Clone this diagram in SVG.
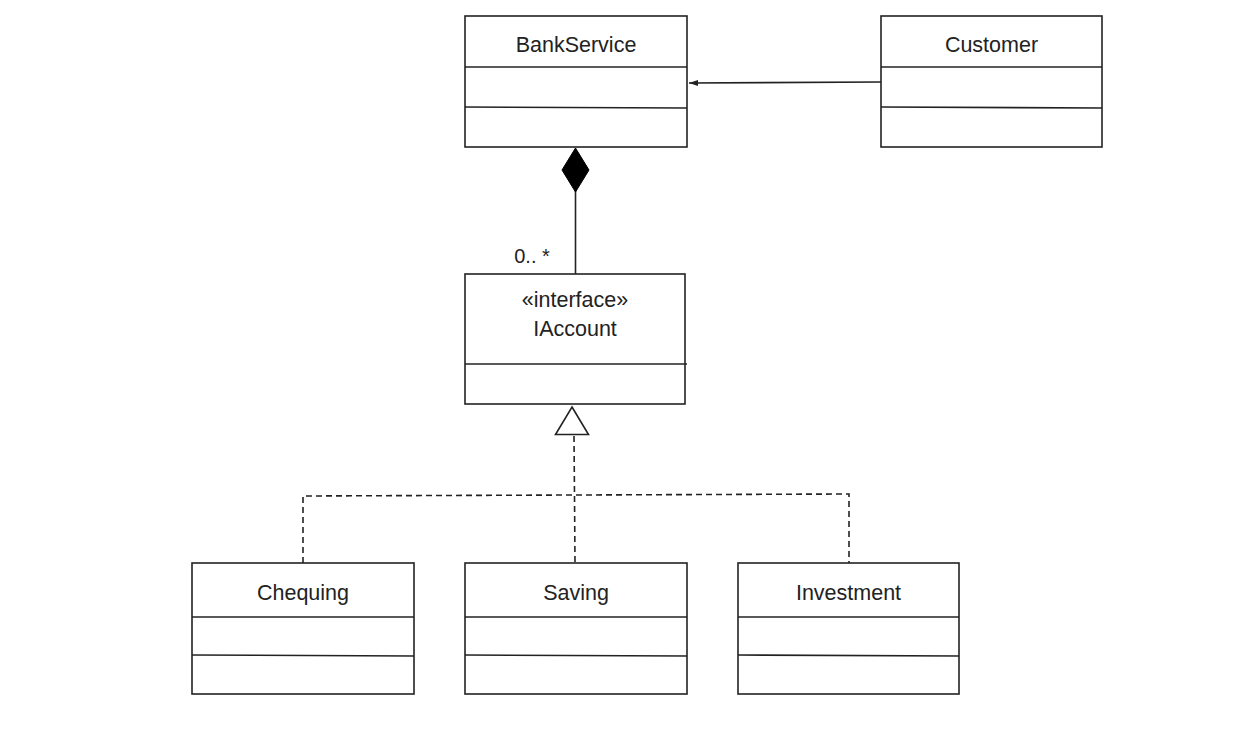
<svg xmlns="http://www.w3.org/2000/svg" width="1240" height="735" viewBox="0 0 1240 735">
<style>
.box{fill:#fff;stroke:#222;stroke-width:1.6}
.div{stroke:#222;stroke-width:1.6}
.t{font-family:"Liberation Sans",Arial,sans-serif;font-size:21.5px;fill:#222;text-anchor:middle}
.c{fill:none;stroke:#222;stroke-width:1.6}
.d{fill:none;stroke:#222;stroke-width:1.6;stroke-dasharray:6,4}
</style>
<defs>
<marker id="arr" markerWidth="10" markerHeight="8" refX="9" refY="4" orient="auto" markerUnits="userSpaceOnUse">
<path d="M0,1 L9,4 L0,7 Z" fill="#222"/>
</marker>
</defs>
<rect width="1240" height="735" fill="#fff"/>
<g id="connectors">
<line class="c" x1="881" y1="82" x2="689" y2="83" marker-end="url(#arr)"/>
<line class="c" x1="575.5" y1="190" x2="575.5" y2="274"/>
<path d="M575.5,148 L589,170 L575.5,192 L562,170 Z" fill="#000" stroke="#000" stroke-width="1"/>
<path class="d" d="M574,436 L574.5,495 L575,563"/>
<path class="d" d="M303,563 L303,496 L849,494 L849,563"/>
<path d="M572,407 L588.5,434.5 L555.5,434.5 Z" fill="#fff" stroke="#222" stroke-width="1.6"/>
<text class="t" x="532" y="263" style="font-size:20px">0.. *</text>
</g>
<g id="BankService">
<rect class="box" x="465" y="16" width="222" height="131"/>
<line class="div" x1="465" y1="67" x2="687" y2="67"/>
<line class="div" x1="465" y1="107" x2="687" y2="108"/>
<text class="t" x="576" y="52">BankService</text>
</g>
<g id="Customer">
<rect class="box" x="881" y="16" width="221" height="131"/>
<line class="div" x1="881" y1="67" x2="1102" y2="67"/>
<line class="div" x1="881" y1="107" x2="1102" y2="108"/>
<text class="t" x="991.5" y="52">Customer</text>
</g>
<g id="IAccount">
<rect class="box" x="465" y="274" width="220" height="130"/>
<line class="div" x1="465" y1="364" x2="687" y2="364"/>
<text class="t" x="575" y="307">«interface»</text>
<text class="t" x="575" y="336">IAccount</text>
</g>
<g id="Chequing">
<rect class="box" x="192" y="563" width="222" height="131"/>
<line class="div" x1="192" y1="617" x2="414" y2="617"/>
<line class="div" x1="192" y1="655" x2="414" y2="656"/>
<text class="t" x="303" y="600">Chequing</text>
</g>
<g id="Saving">
<rect class="box" x="465" y="563" width="222" height="131"/>
<line class="div" x1="465" y1="617" x2="687" y2="617"/>
<line class="div" x1="465" y1="655" x2="687" y2="656"/>
<text class="t" x="576" y="600">Saving</text>
</g>
<g id="Investment">
<rect class="box" x="738" y="563" width="221" height="131"/>
<line class="div" x1="738" y1="617" x2="959" y2="617"/>
<line class="div" x1="738" y1="655" x2="959" y2="656"/>
<text class="t" x="848.5" y="600">Investment</text>
</g>
</svg>
